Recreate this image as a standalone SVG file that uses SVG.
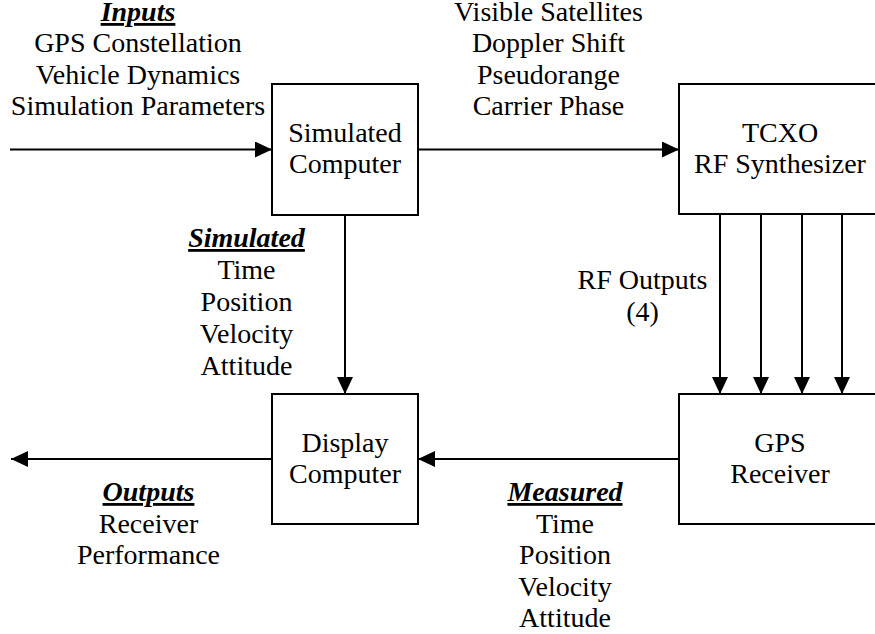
<svg xmlns="http://www.w3.org/2000/svg" width="875" height="634" viewBox="0 0 875 634">
  <style>
    text { font-family: "Liberation Serif", "Times New Roman", Times, serif; font-size: 28px; fill: #000; text-anchor: middle; }
    .hd { font-weight: bold; font-style: italic; text-decoration: underline; text-decoration-thickness: 2.5px; }
    .box { fill: #fff; stroke: #000; stroke-width: 2; }
    .wire { fill: none; stroke: #000; stroke-width: 2; marker-end: url(#head); }
  </style>
  <defs>
    <marker id="head" markerUnits="userSpaceOnUse" markerWidth="18" markerHeight="16" refX="17" refY="8" orient="auto">
      <path d="M0,0 L17,8 L0,16 z" fill="#000"/>
    </marker>
  </defs>

  <rect width="875" height="634" fill="#fff"/>

  <!-- connectors -->
  <g id="connectors">
    <path class="wire" d="M10,149.5 H272"/>
    <path class="wire" d="M418,149.5 H679"/>
    <path class="wire" d="M345,215 V394"/>
    <path class="wire" d="M720,214 V394"/>
    <path class="wire" d="M761,214 V394"/>
    <path class="wire" d="M802,214 V394"/>
    <path class="wire" d="M842,214 V394"/>
    <path class="wire" d="M679,459 H418"/>
    <path class="wire" d="M272,459 H11"/>
  </g>

  <!-- nodes -->
  <g id="simulated-computer">
    <rect class="box" x="272" y="84" width="146" height="131"/>
    <text x="345" y="142">Simulated</text>
    <text x="345" y="173">Computer</text>
  </g>
  <g id="rf-synthesizer">
    <rect class="box" x="679" y="84" width="206" height="130"/>
    <text x="780" y="142">TCXO</text>
    <text x="780" y="173">RF Synthesizer</text>
  </g>
  <g id="display-computer">
    <rect class="box" x="272" y="394" width="146" height="130"/>
    <text x="345" y="452">Display</text>
    <text x="345" y="483">Computer</text>
  </g>
  <g id="gps-receiver">
    <rect class="box" x="679" y="394" width="206" height="130"/>
    <text x="780" y="452">GPS</text>
    <text x="780" y="483">Receiver</text>
  </g>

  <!-- labels -->
  <g id="label-inputs">
    <text class="hd" x="138" y="21">Inputs</text>
    <text x="138" y="52">GPS Constellation</text>
    <text x="138" y="83.5">Vehicle Dynamics</text>
    <text x="138" y="115">Simulation Parameters</text>
  </g>
  <g id="label-signals">
    <text x="548.5" y="20.5">Visible Satellites</text>
    <text x="548.5" y="52">Doppler Shift</text>
    <text x="548.5" y="83.5">Pseudorange</text>
    <text x="548.5" y="115">Carrier Phase</text>
  </g>
  <g id="label-simulated">
    <text class="hd" x="246.5" y="247">Simulated</text>
    <text x="246.5" y="279">Time</text>
    <text x="246.5" y="311">Position</text>
    <text x="246.5" y="343">Velocity</text>
    <text x="246.5" y="375">Attitude</text>
  </g>
  <g id="label-rf">
    <text x="642.5" y="289">RF Outputs</text>
    <text x="642.5" y="320.5">(4)</text>
  </g>
  <g id="label-measured">
    <text class="hd" x="565" y="501">Measured</text>
    <text x="565" y="532.5">Time</text>
    <text x="565" y="564">Position</text>
    <text x="565" y="595.5">Velocity</text>
    <text x="565" y="627">Attitude</text>
  </g>
  <g id="label-outputs">
    <text class="hd" x="148.5" y="501">Outputs</text>
    <text x="148.5" y="532.5">Receiver</text>
    <text x="148.5" y="564">Performance</text>
  </g>
</svg>
